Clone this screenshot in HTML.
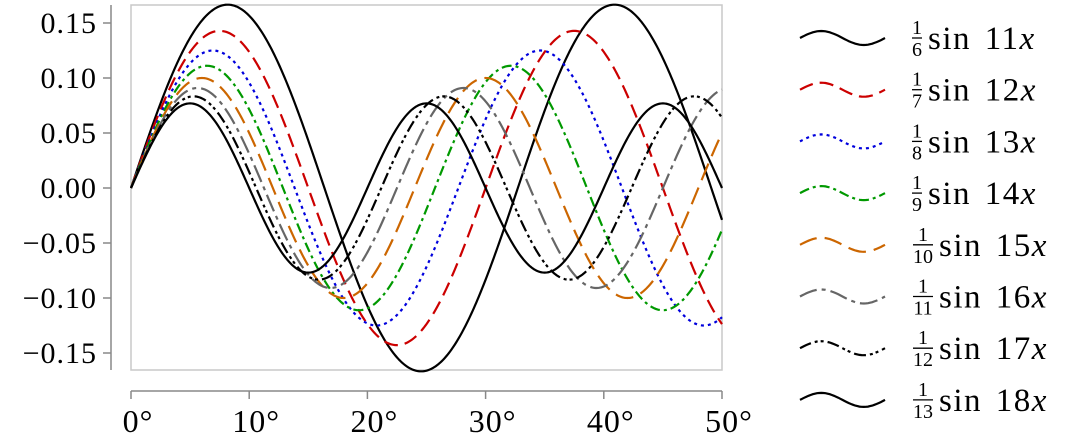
<!DOCTYPE html>
<html><head><meta charset="utf-8"><style>
body{margin:0;background:#fff;}
svg{display:block;font-family:"Liberation Serif",serif;}
</style></head><body>
<svg id="chart" width="1070" height="440"></svg>
<script>
const amplitudeDenoms = [6,7,8,9,10,11,12,13];
const frequencies = [11,12,13,14,15,16,17,18];
const yTicks = [0.15,0.10,0.05,0.00,-0.05,-0.10,-0.15];
const yTickLabels = ["0.15","0.10","0.05","0.00","\u22120.05","\u22120.10","\u22120.15"];
const xTicks = [0,10,20,30,40,50];

const colors = ["#000","#cc0000","#0000dd","#009900","#cc6600","#666","#000","#000"];
const dashes = ["","14,7","3,4","10,4,3,4","18,8","18,5,4,5","12,4,3,3,3,4",""];
const NS="http://www.w3.org/2000/svg";
const svg=document.getElementById('chart');
const X0=131,X1=722,Y0=188,YS=1100;
const xs=v=>X0+(v-0)/(50-0)*(X1-X0);
const ys=v=>Y0-v*YS;
function mk(t,a,p){const e=document.createElementNS(NS,t);for(const k in a)e.setAttribute(k,a[k]);(p||svg).appendChild(e);return e;}

const frame=mk('rect',{x:X0,y:5,width:X1-X0,height:365,fill:'none',stroke:'#c8c8c8','stroke-width':1.5});


const ls=mk('line',{x1:111,y1:5,x2:111,y2:370,stroke:'#888','stroke-width':1.5});


const bs=mk('line',{x1:X0,y1:391,x2:X1,y2:391,stroke:'#888','stroke-width':1.5});



yTicks.forEach((v,i)=>{
  const t=mk('line',{x1:103,y1:ys(v),x2:111,y2:ys(v),stroke:'#888','stroke-width':1.5});
  
  
  const l=mk('text',{x:97,y:ys(v)+10,'text-anchor':'end','font-size':30,'letter-spacing':1,fill:'#000'});
  l.textContent=yTickLabels[i];
  
  
});
xTicks.forEach(v=>{
  const t=mk('line',{x1:xs(v),y1:391,x2:xs(v),y2:399,stroke:'#888','stroke-width':1.5});
  
  
  const l=mk('text',{x:xs(v)+7,y:432,'text-anchor':'middle','font-size':32,'letter-spacing':1,fill:'#000'});
  l.textContent=v+'\u00b0';
  
  
});

amplitudeDenoms.forEach((d,i)=>{
  let pts=[];
  for(let j=0;j<=500;j++){const x=50*j/500;pts.push(xs(x).toFixed(2)+','+ys(Math.sin(frequencies[i]*x*Math.PI/180)/d).toFixed(2));}
  const p=mk('polyline',{points:pts.join(' '),fill:'none',stroke:colors[i],'stroke-width':2.2});
  if(dashes[i])p.setAttribute('stroke-dasharray',dashes[i]);
  
  
  const ly=38+i*51.7;
  const g=mk('g',{});
  
  
  let lp=[];
  for(let j=0;j<=40;j++){const t=j/40;lp.push((800+85*t).toFixed(1)+','+(ly-7*Math.sin(t*2*Math.PI)).toFixed(1));}
  const sw=mk('polyline',{points:lp.join(' '),fill:'none',stroke:colors[i],'stroke-width':2.2},g);
  if(dashes[i])sw.setAttribute('stroke-dasharray',dashes[i]);
  const fx=d>=10?923:917;
  const n=mk('text',{x:fx,y:ly-4,'text-anchor':'middle','font-size':20},g);n.textContent='1';
  mk('line',{x1:fx-(d>=10?10:5),y1:ly,x2:fx+(d>=10?10:5),y2:ly,stroke:'#000','stroke-width':1.3},g);
  const dn=mk('text',{x:fx,y:ly+18,'text-anchor':'middle','font-size':20},g);dn.textContent=d;
  const tx=mk('text',{x:fx+(d>=10?16:11),y:ly+11,'font-size':33,'letter-spacing':1.5,'word-spacing':4},g);
  tx.innerHTML='sin '+frequencies[i]+'<tspan font-style="italic">x</tspan>';
});
</script>
</body></html>
